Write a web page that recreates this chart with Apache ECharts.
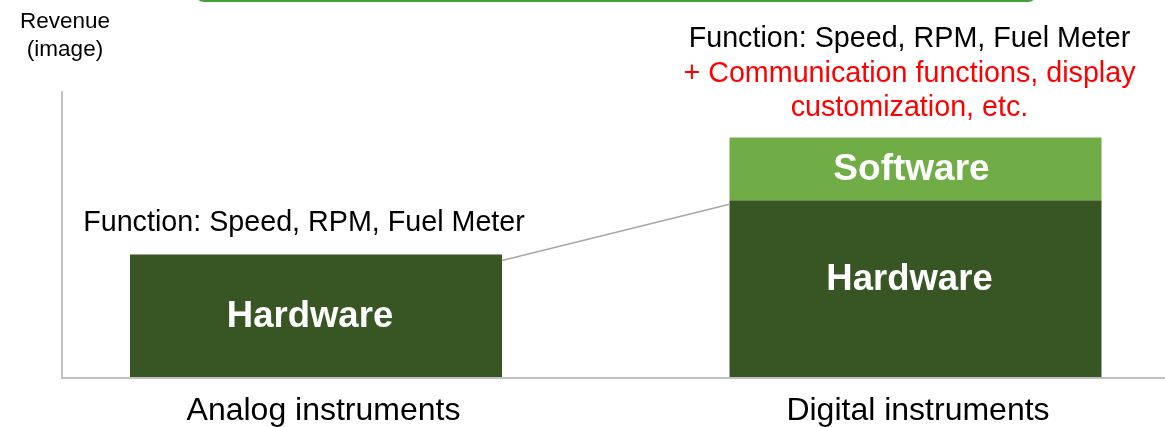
<!DOCTYPE html>
<html>
<head>
<meta charset="utf-8">
<script src="https://cdn.jsdelivr.net/npm/echarts@6/dist/echarts.min.js"></script>
<style>
  html, body { margin: 0; padding: 0; background: #fff; }
  #chart { width: 1165px; height: 427px; }
</style>
</head>
<body>
<div id="chart"></div>
<script>
// categories and (illustrative) revenue values
const categories = ['Analog instruments', 'Digital instruments']
const hardware = [43, 62]
const software = ['-', 22]
const yAxisName = 'Revenue\n(image)'
const functionText = 'Function: Speed, RPM, Fuel Meter'
const extraText = ['+ Communication functions, display', 'customization, etc.']

const FONT = "'Liberation Sans', Arial, sans-serif"
const BAR_W = 372

// stack totals used to place the function notes above each bar
const totals = hardware.map((h, i) => h + (software[i] === '-' ? 0 : software[i]))

const chart = echarts.init(document.getElementById('chart'))

const option = {
  animation: false,
  textStyle: { fontFamily: FONT },
  grid: [
    // bars: categories sit on the grid edges (boundaryGap false)
    { left: 316, width: 599.5, top: 92, bottom: 49 },
    // visible axis lines
    { left: 62, right: 0, top: 92, bottom: 49 }
  ],
  xAxis: [
    {
      type: 'category',
      gridIndex: 0,
      data: categories,
      boundaryGap: false,
      axisLine: { show: false },
      axisTick: { show: false },
      axisLabel: {
        interval: 0,
        color: '#000',
        fontSize: 32,
        fontFamily: FONT,
        margin: 18,
        formatter: (v, i) => (i === 0 ? '{a|' + v + '}' : '{d|' + v + '}'),
        rich: {
          a: { fontSize: 32, color: '#000', fontFamily: FONT, padding: [0, 0, 0, 15] },
          d: { fontSize: 32, color: '#000', fontFamily: FONT, padding: [0, 0, 0, 5] }
        }
      }
    },
    {
      type: 'value',
      gridIndex: 1,
      min: 0,
      max: 1,
      axisLabel: { show: false },
      axisTick: { show: false },
      splitLine: { show: false },
      axisLine: { show: true, lineStyle: { color: '#c0c0c0', width: 2 } }
    }
  ],
  yAxis: [
    { type: 'value', gridIndex: 0, min: 0, max: 100, show: false },
    {
      type: 'value',
      gridIndex: 1,
      min: 0,
      max: 1,
      name: yAxisName,
      nameLocation: 'end',
      nameGap: 28,
      nameTextStyle: {
        color: '#000', fontSize: 22.5, lineHeight: 28, fontFamily: FONT,
        align: 'center', padding: [0, 0, 0, 6]
      },
      axisLabel: { show: false },
      axisTick: { show: false },
      splitLine: { show: false },
      axisLine: { show: true, lineStyle: { color: '#c0c0c0', width: 2 } }
    }
  ],
  graphic: [
    {
      type: 'rect',
      shape: { x: 196, y: -40, width: 840, height: 41, r: 8 },
      style: { fill: 'none', stroke: '#43a038', lineWidth: 2 }
    }
  ],
  series: [
    {
      name: 'Hardware',
      type: 'bar',
      stack: 'rev',
      clip: false,
      barWidth: BAR_W,
      itemStyle: { color: '#375623' },
      label: {
        show: true,
        position: 'inside',
        formatter: 'Hardware',
        color: '#fff',
        fontSize: 36.5,
        fontWeight: 'bold',
        fontFamily: FONT
      },
      data: hardware.map((v, i) => ({
        value: v,
        label: { offset: i === 0 ? [-6, 1] : [-6, -9] }
      }))
    },
    {
      name: 'Software',
      type: 'bar',
      stack: 'rev',
      clip: false,
      barWidth: BAR_W,
      itemStyle: { color: '#70ad47' },
      label: {
        show: true,
        position: 'inside',
        formatter: 'Software',
        color: '#fff',
        fontSize: 37,
        fontWeight: 'bold',
        fontFamily: FONT,
        offset: [-4, 1]
      },
      data: software
    },
    {
      // notes above the bars
      type: 'scatter',
      symbolSize: 0,
      silent: true,
      clip: false,
      z: 5,
      itemStyle: { opacity: 1 },
      label: {
        show: true,
        position: 'top',
        align: 'center',
        color: '#000',
        rich: {
          b: { color: '#000', fontSize: 28.7, lineHeight: 34.5, fontFamily: FONT },
          r: { color: '#ff0000', fontSize: 28.7, lineHeight: 34.5, fontFamily: FONT }
        }
      },
      data: totals.map((t, i) => ({
        value: [i, t],
        label: {
          distance: i === 0 ? 14 : 12,
          offset: i === 0 ? [-12, 0] : [-6, 0],
          formatter: i === 0
            ? '{b|' + functionText + '}'
            : ['{b|' + functionText + '}'].concat(extraText.map(s => '{r|' + s + '}')).join('\n')
        }
      }))
    },
    {
      // thin connector between the two hardware bars
      type: 'custom',
      silent: true,
      clip: false,
      z: 4,
      encode: { x: [0, 2], y: [1, 3] },
      data: [[0, hardware[0], 1, hardware[1]]],
      renderItem: (params, api) => {
        const a = api.coord([api.value(0), api.value(1)])
        const b = api.coord([api.value(2), api.value(3)])
        return {
          type: 'line',
          shape: { x1: a[0] + BAR_W / 2, y1: a[1] + 6, x2: b[0] - BAR_W / 2, y2: b[1] + 4 },
          style: { stroke: '#a6a6a6', lineWidth: 1.5 }
        }
      }
    }
  ]
}

chart.setOption(option)
</script>
</body>
</html>
